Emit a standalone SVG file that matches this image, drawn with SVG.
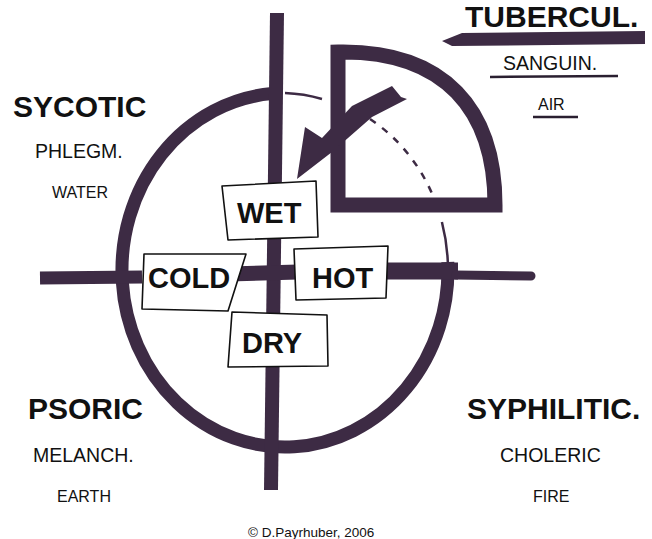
<svg xmlns="http://www.w3.org/2000/svg" width="652" height="539" viewBox="0 0 652 539">
<style>
.ink{stroke:#3d2b44;fill:none}
.fillink{fill:#3d2b44;stroke:none}
.box{fill:#fff;stroke:#111;stroke-width:1.6;stroke-linejoin:round}
text{font-family:"Liberation Sans",Arial,sans-serif;fill:#111}
.big{font-size:30px;font-weight:bold}
.bx{font-size:29px;font-weight:bold}
.mid{font-size:19.5px}
.sm{font-size:16px}
.thin{stroke:#2a1f30;stroke-width:2.5;fill:none}
</style>
<rect width="652" height="539" fill="#fff"/>
<g id="connectors">
  <!-- circle -->
  <path class="ink" stroke-width="13" d="M 447.8 262 A 163 177 0 1 1 272 93.6"/>
  <path class="ink" stroke-width="2.5" d="M 285 93 A 163 177 0 0 1 322 99"/>
  <path class="ink" stroke-width="2.5" stroke-dasharray="7 8" d="M 370 119 A 163 177 0 0 1 437 206"/>
  <path class="ink" stroke-width="2.5" d="M 441.9 222 A 163 177 0 0 1 447.8 262"/>
  <!-- cross -->
  <path class="ink" stroke-width="14" d="M 277 13 L 271 490"/>
  <path class="ink" stroke-width="13" d="M 40 278 L 142 277"/>
  <path class="ink" stroke-width="15" d="M 228 274 L 298 272"/>
  <path class="ink" stroke-width="17" d="M 385 271 L 458 271"/>
  <path class="ink" stroke-width="9" stroke-linecap="round" d="M 456 275 L 531 276"/>
  <!-- quarter -->
  <path class="ink" stroke-width="15" stroke-linejoin="miter" d="M 338 52 C 445 50 495 110 495 205 L 338 205 Z"/>
  <!-- arrow -->
  <polygon class="fillink" points="392,86 401,97 407,99 372,117 332,152 297,179 305,127 322,138 352,106"/>
  <!-- tubercul band -->
  <polygon class="fillink" points="442,41 462,33 645,31 645,44 452,46"/>
  <line class="thin" x1="490" y1="77" x2="618" y2="76"/>
  <line class="thin" x1="533" y1="117" x2="578" y2="117"/>
</g>
<g id="wet">
  <polygon class="box" points="222,186 316,181 318,237 228,240"/>
  <text class="bx" x="237" y="223">WET</text>
</g>
<g id="cold">
  <polygon class="box" points="144,254 246,254 228,311 142,309"/>
  <text class="bx" x="148" y="288">COLD</text>
</g>
<g id="hot">
  <polygon class="box" points="294,249 388,246 386,298 296,300"/>
  <text class="bx" x="312" y="288">HOT</text>
</g>
<g id="dry">
  <polygon class="box" points="232,312 327,315 328,366 228,367"/>
  <text class="bx" x="242" y="353">DRY</text>
</g>
<g id="tubercul">
  <text class="big" x="465" y="27">TUBERCUL.</text>
  <text class="mid" x="503" y="70">SANGUIN.</text>
  <text class="sm" x="538" y="110">AIR</text>
</g>
<g id="sycotic">
  <text class="big" x="13" y="117">SYCOTIC</text>
  <text class="mid" x="35" y="158">PHLEGM.</text>
  <text class="sm" x="52" y="198">WATER</text>
</g>
<g id="psoric">
  <text class="big" x="28" y="419">PSORIC</text>
  <text class="mid" x="33" y="462">MELANCH.</text>
  <text class="sm" x="57" y="502">EARTH</text>
</g>
<g id="syphilitic">
  <text class="big" x="467" y="419">SYPHILITIC.</text>
  <text class="mid" x="500" y="462">CHOLERIC</text>
  <text class="sm" x="533" y="502">FIRE</text>
</g>
<g id="copyright">
  <text x="248" y="537" font-size="13.5">© D.Payrhuber, 2006</text>
</g>
</svg>
